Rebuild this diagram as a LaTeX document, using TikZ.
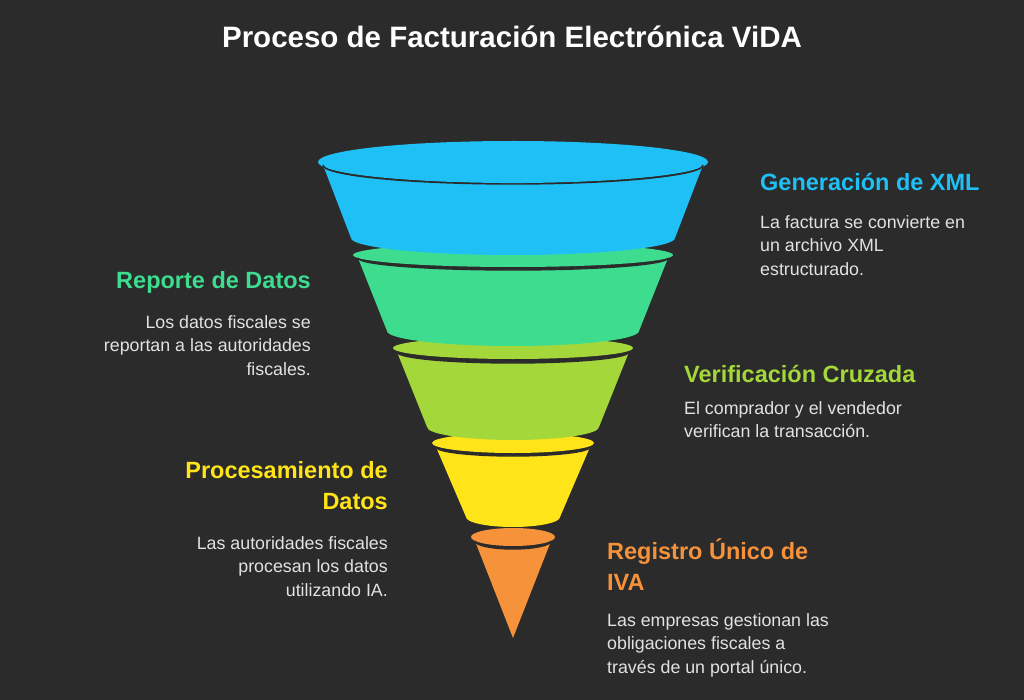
\documentclass[tikz,border=0pt]{standalone}
\usepackage{fontspec}
\setmainfont{Liberation Sans}
\definecolor{bg}{HTML}{2B2B2B}
\definecolor{cblue}{HTML}{1EC0F5}
\definecolor{cgreen}{HTML}{3DDC8F}
\definecolor{clime}{HTML}{A4D83A}
\definecolor{cyellow}{HTML}{FFE41A}
\definecolor{corange}{HTML}{F5923A}
\definecolor{body}{HTML}{E2E2E2}
\tikzset{
  head/.style={inner sep=0pt,font=\fontsize{23.5}{31}\selectfont\bfseries},
  txt/.style={inner sep=0pt,text=body,font=\fontsize{17.8}{23.5}\selectfont},
  edge/.style={draw=bg,line width=1.4pt}
}
\newcommand{\band}[7]{% color, ytop, wtop, rytop, ybot, wbot, rybot
  \fill[#1] (513-#3,#2) -- (513-#6,#5) arc[start angle=180,end angle=0,x radius=#6,y radius=#7]
     -- (513+#3,#2) arc[start angle=0,end angle=180,x radius=#3,y radius=#4] -- cycle;
  \draw[edge] (513+#3,#2) arc[start angle=0,end angle=180,x radius=#3,y radius=#4];
}
\begin{document}
\begin{tikzpicture}[x=1pt,y=-1pt]
\fill[bg] (0,0) rectangle (1024,700);
\useasboundingbox (0,0) rectangle (1024,700);
\node[inner sep=0pt,text=white,font=\fontsize{29.5}{33}\selectfont\bfseries] (title) at (512,37) {Proceso de Facturación Electrónica ViDA};
% orange
\fill[corange] (513,537) ellipse[x radius=42,y radius=9];
\fill[corange] (475,541) -- (513,638) -- (551,541) arc[start angle=0,end angle=180,x radius=38,y radius=8] -- cycle;
\draw[edge] (551,541) arc[start angle=0,end angle=180,x radius=38,y radius=8];
% yellow
\fill[cyellow] (513,443) ellipse[x radius=81,y radius=10];
\band{cyellow}{447}{77}{9}{517}{47}{10}
% lime
\fill[clime] (513,348) ellipse[x radius=120,y radius=11];
\band{clime}{352}{116}{11}{427}{86}{13}
% green
\fill[cgreen] (513,255) ellipse[x radius=160,y radius=12];
\band{cgreen}{258}{155}{12}{331}{126}{15}
% blue
\band{cblue}{165}{190}{18}{238}{162}{17}
\fill[cblue] (513,162) ellipse[x radius=195,y radius=21];
\draw[edge] (703,165) arc[start angle=0,end angle=180,x radius=190,y radius=19];
% texts
\node[head,text=cblue,anchor=base west] (h1) at (760,191) {Generación de XML};
\node[txt,anchor=north west,align=left] (t1) at (760,215) {La factura se convierte en\\un archivo XML\\estructurado.};
\node[head,text=cgreen,anchor=base east] (h2) at (311,289) {Reporte de Datos};
\node[txt,anchor=north east,align=right] (t2) at (311,315) {Los datos fiscales se\\reportan a las autoridades\\fiscales.};
\node[head,text=clime,anchor=base west] (h3) at (684,382) {Verificación Cruzada};
\node[txt,anchor=north west,align=left] (t3) at (684,401) {El comprador y el vendedor\\verifican la transacción.};
\node[head,text=cyellow,anchor=north east,align=right] (h4) at (388,461) {Procesamiento de\\Datos};
\node[txt,anchor=north east,align=right] (t4) at (388,536) {Las autoridades fiscales\\procesan los datos\\utilizando IA.};
\node[head,text=corange,anchor=north west,align=left] (h5) at (607,538) {Registro Único de\\IVA};
\node[txt,anchor=north west,align=left] (t5) at (607,613) {Las empresas gestionan las\\obligaciones fiscales a\\través de un portal único.};
\end{tikzpicture}
\end{document}
